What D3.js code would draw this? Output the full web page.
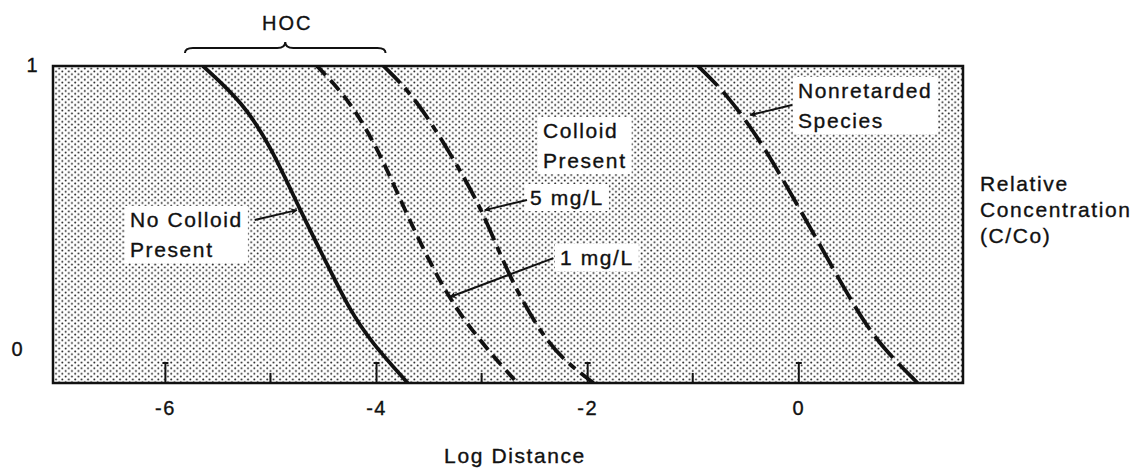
<!DOCTYPE html>
<html>
<head>
<meta charset="utf-8">
<script src="https://cdn.jsdelivr.net/npm/d3@7"></script>
<style>
  body { margin: 0; background: #fff; }
  text { font-family: "Liberation Sans", Arial, sans-serif; fill: #111; stroke: #111; stroke-width: 0.35px; }
</style>
</head>
<body>
<div class="canvas"></div>
<script>
// breakthrough curves: [log distance, C/Co]
const noColloid = [[-5.64, 1.0], [-5.26, 0.87], [-4.99, 0.71], [-4.72, 0.489], [-4.46, 0.295], [-4.25, 0.135], [-4.04, 0.018], [-3.70, -0.124]];
const oneMgL = [[-4.56, 1.0], [-4.25, 0.879], [-3.96, 0.691], [-3.71, 0.472], [-3.33, 0.181], [-3.0, 0.02], [-2.80, -0.067], [-2.66, -0.124]];
const fiveMgL = [[-3.93, 1.0], [-3.63, 0.89], [-3.28, 0.68], [-2.99, 0.489], [-2.74, 0.25], [-2.42, 0.04], [-2.2, -0.05], [-1.94, -0.124]];
const nonretarded = [[-0.95, 1.0], [-0.67, 0.897], [-0.38, 0.745], [-0.18, 0.62], [0.18, 0.383], [0.57, 0.12], [0.8, 0.0], [1.13, -0.124]];

const xTicks = [-6, -4, -2, 0];
const xMinor = [-5, -3, -1];
const yTicks = [1, 0];
const hocRange = [-5.81, -3.91];

const dims = { width: 1144, height: 473 };
const frame = { left: 53, top: 66, right: 963, bottom: 383 };

const svg = d3
  .select(".canvas")
  .append("svg")
  .attr("width", dims.width)
  .attr("height", dims.height);

const x = d3.scaleLinear().domain([-7.06, 1.56]).range([frame.left, frame.right]);
const y = d3.scaleLinear().domain([-0.124, 1]).range([frame.bottom, frame.top]);

// stipple pattern
const defs = svg.append("defs");
const pat = defs
  .append("pattern")
  .attr("id", "stipple")
  .attr("patternUnits", "userSpaceOnUse")
  .attr("width", 6.4)
  .attr("height", 5.6);
pat.append("rect").attr("width", 6.4).attr("height", 5.6).attr("fill", "#fff");
pat.append("circle").attr("cx", 1.6).attr("cy", 1.4).attr("r", 0.95).attr("fill", "#1a1a1a");
pat.append("circle").attr("cx", 4.8).attr("cy", 4.2).attr("r", 0.95).attr("fill", "#1a1a1a");

defs
  .append("clipPath")
  .attr("id", "plotclip")
  .append("rect")
  .attr("x", frame.left)
  .attr("y", frame.top)
  .attr("width", frame.right - frame.left)
  .attr("height", frame.bottom - frame.top);

defs
  .append("marker")
  .attr("id", "head")
  .attr("viewBox", "0 0 10 10")
  .attr("refX", 9)
  .attr("refY", 5)
  .attr("markerWidth", 8)
  .attr("markerHeight", 7)
  .attr("markerUnits", "userSpaceOnUse")
  .attr("orient", "auto")
  .append("path")
  .attr("d", "M0,0 L10,5 L0,10 L3,5 Z")
  .attr("fill", "#111");

// plot background
svg
  .append("rect")
  .attr("x", frame.left)
  .attr("y", frame.top)
  .attr("width", frame.right - frame.left)
  .attr("height", frame.bottom - frame.top)
  .attr("fill", "url(#stipple)");

//curves
const line = d3
  .line()
  .x((d) => x(d[0]))
  .y((d) => y(d[1]))
  .curve(d3.curveBasis);

const curves = [
  { data: noColloid, dash: null },
  { data: oneMgL, dash: "13,7" },
  { data: fiveMgL, dash: "24,7,8,7" },
  { data: nonretarded, dash: "28,8" },
];

svg
  .append("g")
  .attr("clip-path", "url(#plotclip)")
  .selectAll("path")
  .data(curves)
  .enter()
  .append("path")
  .attr("d", (d) => line(d.data))
  .attr("fill", "none")
  .attr("stroke", "#111")
  .attr("stroke-width", 3.8)
  .attr("stroke-dasharray", (d) => d.dash);

// frame
svg
  .append("rect")
  .attr("x", frame.left)
  .attr("y", frame.top)
  .attr("width", frame.right - frame.left)
  .attr("height", frame.bottom - frame.top)
  .attr("fill", "none")
  .attr("stroke", "#111")
  .attr("stroke-width", 2.5);

// x axis
const xAxis = d3
  .axisBottom(x)
  .tickValues(xTicks)
  .tickSizeInner(-20)
  .tickSizeOuter(0)
  .tickPadding(18)
  .tickFormat((d) => String(d));

const axisG = svg
  .append("g")
  .attr("transform", `translate(0,${frame.bottom})`)
  .call(xAxis);
axisG.select(".domain").remove();
axisG.selectAll("line").attr("stroke", "#111").attr("stroke-width", 2);
axisG
  .selectAll(".tick")
  .append("line")
  .attr("x1", -3)
  .attr("x2", 3)
  .attr("y1", -20)
  .attr("y2", -20)
  .attr("stroke", "#111")
  .attr("stroke-width", 2);
axisG
  .selectAll("text")
  .attr("fill", "#111")
  .style("font-size", "20px")
  .style("letter-spacing", "1.5px")
  .style("font-family", "Liberation Sans, Arial, sans-serif");

svg
  .append("g")
  .selectAll("line")
  .data(xMinor)
  .enter()
  .append("line")
  .attr("x1", (d) => x(d))
  .attr("x2", (d) => x(d))
  .attr("y1", frame.bottom)
  .attr("y2", frame.bottom - 10)
  .attr("stroke", "#111")
  .attr("stroke-width", 2);

// y labels
svg
  .append("g")
  .selectAll("text")
  .data(yTicks)
  .enter()
  .append("text")
  .attr("x", (d) => (d === 1 ? 32 : 17))
  .attr("y", (d) => y(d) + (d === 1 ? 6 : 8))
  .attr("text-anchor", "middle")
  .style("font-size", "20px")
  .text((d) => d);

// HOC brace
const bx1 = x(hocRange[0]);
const bx2 = x(hocRange[1]);
const bm = (bx1 + bx2) / 2;
svg
  .append("path")
  .attr(
    "d",
    `M${bx1},53 Q${bx1},48 ${bx1 + 8},48 L${bm - 8},48 Q${bm},48 ${bm},42 Q${bm},48 ${bm + 8},48 L${bx2 - 8},48 Q${bx2},48 ${bx2},53`
  )
  .attr("fill", "none")
  .attr("stroke", "#111")
  .attr("stroke-width", 2);

svg
  .append("text")
  .attr("x", bm + 2)
  .attr("y", 30)
  .attr("text-anchor", "middle")
  .style("font-size", "20px")
  .style("letter-spacing", "2px")
  .text("HOC");

// labels with white boxes
const labels = [
  { lines: ["No Colloid", "Present"], x: 130, y: 227 },
  { lines: ["Colloid", "Present"], x: 543, y: 138 },
  { lines: ["5 mg/L"], x: 530, y: 205 },
  { lines: ["1 mg/L"], x: 560, y: 265 },
  { lines: ["Nonretarded", "Species"], x: 798, y: 98 },
];

const labelG = svg.append("g");
labels.forEach((l) => {
  const g = labelG.append("g");
  const box = g.append("rect").attr("fill", "#fff");
  const t = g
    .append("text")
    .style("font-size", "21px")
    .style("letter-spacing", "1.6px");
  l.lines.forEach((s, i) => {
    t.append("tspan").attr("x", l.x).attr("y", l.y + i * 30).text(s);
  });
  const bb = t.node().getBBox();
  box
    .attr("x", bb.x - 5)
    .attr("y", bb.y - 2)
    .attr("width", bb.width + 10)
    .attr("height", bb.height + 4);
});

// arrows
const arrows = [
  { from: [-5.15, 0.454], to: [-4.75, 0.489] },
  { from: [-2.57, 0.525], to: [-2.97, 0.489] },
  { from: [-2.32, 0.319], to: [-3.3, 0.181] },
  { from: [-0.06, 0.862], to: [-0.455, 0.826] },
];

svg
  .append("g")
  .selectAll("line")
  .data(arrows)
  .enter()
  .append("line")
  .attr("x1", (d) => x(d.from[0]))
  .attr("y1", (d) => y(d.from[1]))
  .attr("x2", (d) => x(d.to[0]))
  .attr("y2", (d) => y(d.to[1]))
  .attr("stroke", "#111")
  .attr("stroke-width", 2)
  .attr("marker-end", "url(#head)");

// right axis title
const rt = svg
  .append("text")
  .style("font-size", "21px")
  .style("letter-spacing", "1.6px");
["Relative", "Concentration", "(C/Co)"].forEach((s, i) => {
  rt.append("tspan").attr("x", 980).attr("y", 191 + i * 26).text(s);
});

// x axis title
svg
  .append("text")
  .attr("x", 515)
  .attr("y", 463)
  .attr("text-anchor", "middle")
  .style("font-size", "21px")
  .style("letter-spacing", "1.6px")
  .text("Log Distance");
</script>
</body>
</html>
